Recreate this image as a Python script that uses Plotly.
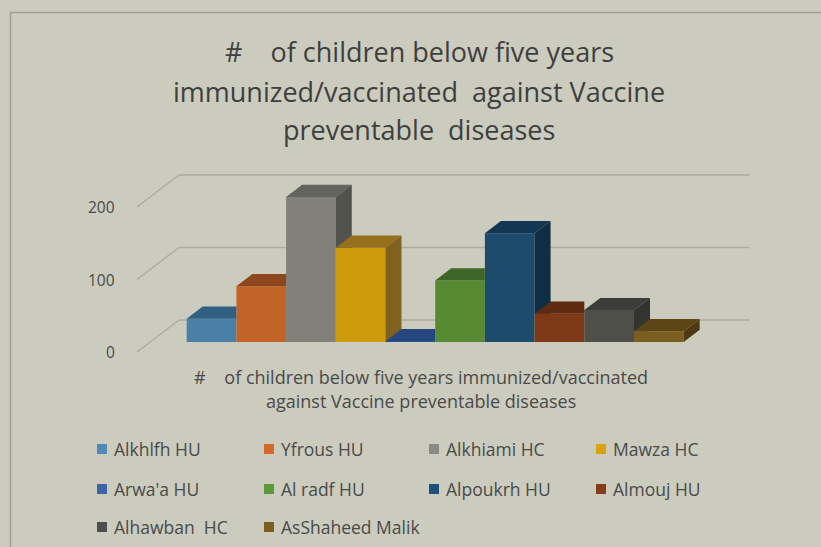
import plotly.graph_objects as go

# ---------------- data ----------------
series = ["Alkhlfh HU", "Yfrous HU", "Alkhiami HC", "Mawza HC", "Arwa'a HU",
          "Al radf HU", "Alpoukrh HU", "Almouj HU", "Alhawban  HC", "AsShaheed Malik"]
values = [32, 77, 200, 130, 1, 85, 150, 39, 44, 15]
tick_vals = [0, 100, 200]
tick_text = ["0", "100", "200"]

front_colors = ["#4a80a8", "#c26428", "#81817a", "#cc9a0a", "#2d558f",
                "#588a33", "#1d4b6e", "#7e3a16", "#4f4f4a", "#7c5e1f"]
top_colors = ["#2f6080", "#8e461c", "#64645e", "#96701c", "#264680",
              "#3f6528", "#133652", "#5e2a10", "#3c3c38", "#5d4516"]
side_colors = ["#2a5678", "#7a3d18", "#52524c", "#80621e", "#203d6d",
               "#355a22", "#0f2d45", "#50240e", "#333330", "#4d3a12"]
legend_colors = ["#4f89b8", "#d46a2a", "#8b8b85", "#d9a30c", "#3c64a6",
                 "#5a9a3a", "#1e5078", "#843c1a", "#4e4e4e", "#7c5e22"]

title_lines = ["#\u00a0\u00a0\u00a0 of children below five years",
               "immunized/vaccinated\u00a0 against Vaccine",
               "preventable\u00a0 diseases"]
axis_title_lines = ["#\u00a0\u00a0\u00a0 of children below five years immunized/vaccinated",
                    "against Vaccine preventable diseases"]

W, H = 821, 547
BG = "#cbccbe"
TXT = "#4a4a4a"
FONT = "Open Sans"

# projection helpers (oblique 3D look)
PX_PER_X = 49.7      # pixels per bar width
PX_PER_V = 0.725     # pixels per value unit
X0_PX, BASE_PX = 186.7, 342.0
SLOPE = 1.31         # horizontal px shift per vertical px of depth


def depth(d):
    """offset in axis units for a depth of d vertical pixels"""
    return d * SLOPE / PX_PER_X, d / PX_PER_V


bar_dx, bar_dv = depth(12.2)
wall_left, wall_right = -0.735, 10.75
floor_front, back_wall = -10.0, 22.0

fig = go.Figure()
shapes = []

# back wall gridlines and left wall diagonals (below the bars)
grid_color = "#abad9e"
bx, bv = depth(back_wall)
fx, fv = depth(floor_front)
for v in tick_vals:
    shapes.append(dict(type="line", xref="x", yref="y", layer="below",
                       x0=wall_left + bx, x1=wall_right + bx, y0=v + bv, y1=v + bv,
                       line=dict(color=grid_color, width=1.5)))
    shapes.append(dict(type="line", xref="x", yref="y", layer="below",
                       x0=wall_left + fx, x1=wall_left + bx, y0=v + fv, y1=v + bv,
                       line=dict(color=grid_color, width=1.5)))

n = len(values)
# front faces as bars
for i, (name, v) in enumerate(zip(series, values)):
    fig.add_trace(go.Bar(x=[i], y=[v], base=0, width=1, offset=0, name=name,
                         marker=dict(color=front_colors[i], line=dict(width=0)),
                         showlegend=False, hovertemplate=name + ": %{y}<extra></extra>"))

# top and right side faces, clipped where the next bar hides them
for i, v in enumerate(values):
    nxt = values[i + 1] if i + 1 < n else None
    if nxt is not None and nxt >= v:
        tx = [i, i + 1, i + 1, i + bar_dx, i]
        ty = [v, v, v + bar_dv, v + bar_dv, v]
    else:
        tx = [i, i + 1, i + 1 + bar_dx, i + bar_dx, i]
        ty = [v, v, v + bar_dv, v + bar_dv, v]
    fig.add_trace(go.Scatter(x=tx, y=ty, fill="toself", fillcolor=top_colors[i], mode="lines",
                             line=dict(width=0, color=top_colors[i]),
                             hoverinfo="skip", showlegend=False))
    b = 0 if nxt is None else nxt
    if b < v:
        sx = [i + 1, i + 1, i + 1 + bar_dx, i + 1 + bar_dx]
        sy = [b, v, v + bar_dv, max(bar_dv, b)]
        if b < bar_dv:
            sx.append(i + 1 + b / bar_dv * bar_dx)
            sy.append(b)
        sx.append(sx[0])
        sy.append(sy[0])
        fig.add_trace(go.Scatter(x=sx, y=sy, fill="toself", fillcolor=side_colors[i],
                                 mode="lines", line=dict(width=0, color=side_colors[i]),
                                 hoverinfo="skip", showlegend=False))

annotations = []
# value-axis tick labels at the front-left edge of the floor
for v, t in zip(tick_vals, tick_text):
    annotations.append(dict(x=wall_left + fx, y=v + fv, xref="x", yref="y", text=t,
                            showarrow=False, xanchor="right", yanchor="middle", xshift=-20,
                            font=dict(family=FONT, size=15.5, color=TXT)))

# chart title
for txt, yc in zip(title_lines, [52, 91, 129]):
    annotations.append(dict(x=419 / W, y=1 - yc / H, xref="paper", yref="paper", text=txt,
                            showarrow=False, xanchor="center", yanchor="middle",
                            font=dict(family=FONT, size=27, color="#3f3f3f")))
# category axis title
for txt, yc in zip(axis_title_lines, [377, 401]):
    annotations.append(dict(x=421 / W, y=1 - yc / H, xref="paper", yref="paper", text=txt,
                            showarrow=False, xanchor="center", yanchor="middle",
                            font=dict(family=FONT, size=18, color=TXT)))

# legend (manual 4-column grid)
col_x = [97, 264, 429, 596]
row_y = [449, 489, 527]
for k, name in enumerate(series):
    cx, ry = col_x[k % 4], row_y[k // 4]
    shapes.append(dict(type="rect", xref="paper", yref="paper",
                       x0=cx / W, x1=(cx + 10) / W, y0=1 - (ry - 5) / H, y1=1 - (ry + 5) / H,
                       fillcolor=legend_colors[k], line=dict(width=0)))
    annotations.append(dict(x=(cx + 15) / W, y=1 - ry / H, xref="paper", yref="paper",
                            text=name, showarrow=False, xanchor="left", yanchor="middle",
                            font=dict(family=FONT, size=17.5, color=TXT)))

# chart border
shapes.append(dict(type="line", xref="paper", yref="paper", x0=10.5 / W, x1=10.5 / W,
                   y0=1 - 12 / H, y1=0, line=dict(color="#9ea192", width=1.5)))
shapes.append(dict(type="line", xref="paper", yref="paper", x0=10 / W, x1=1,
                   y0=1 - 12.5 / H, y1=1 - 12.5 / H, line=dict(color="#9ea192", width=1.5)))

fig.update_layout(
    width=W, height=H, margin=dict(l=0, r=0, t=0, b=0),
    paper_bgcolor=BG, plot_bgcolor=BG, barmode="overlay", showlegend=False,
    xaxis=dict(range=[(0 - X0_PX) / PX_PER_X, (W - X0_PX) / PX_PER_X], visible=False, fixedrange=True),
    yaxis=dict(range=[(BASE_PX - H) / PX_PER_V, BASE_PX / PX_PER_V], visible=False, fixedrange=True),
    annotations=annotations, shapes=shapes,
)

fig.write_html("out.html", config={"displayModeBar": False},
               post_script="document.body.style.margin='0';document.body.style.background='" + BG + "';")
